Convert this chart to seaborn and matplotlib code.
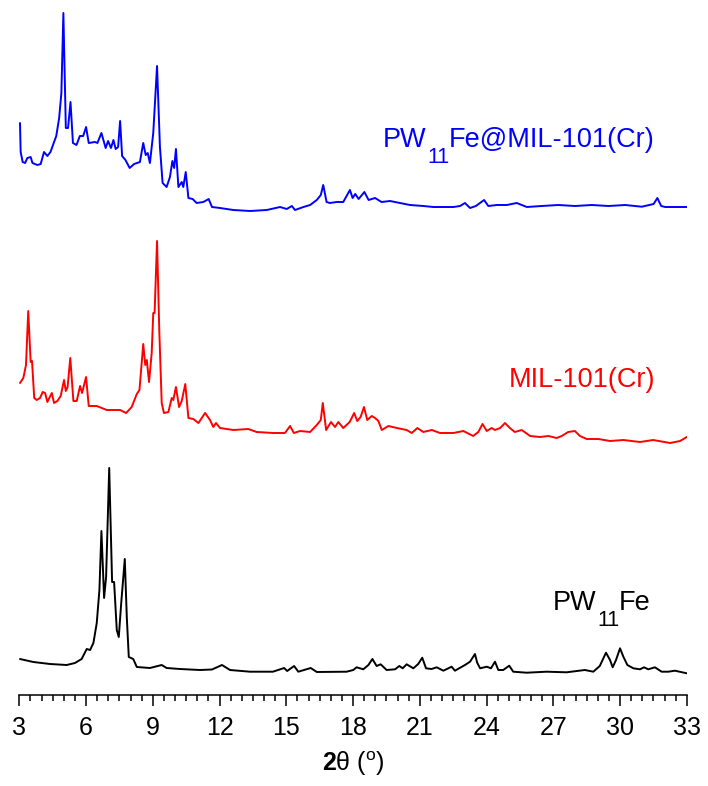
import numpy as np
import pandas as pd
import matplotlib
matplotlib.use('Agg')
import matplotlib.pyplot as plt
import seaborn as sns
from matplotlib.ticker import MultipleLocator
from matplotlib.transforms import IdentityTransform

# 2theta (deg) and relative intensity
pw11fe_2theta = [3.03, 3.63, 4.38, 5.13, 5.50, 5.80, 6.03, 6.18, 6.33, 6.48, 6.60, 6.69, 6.81, 6.90,
                 7.04, 7.17, 7.26, 7.38, 7.47, 7.58, 7.74, 7.83, 7.92, 8.12, 8.28, 8.87, 9.40, 9.62,
                 10.22, 11.12, 11.66, 12.11, 12.47, 13.37, 14.40, 14.90, 15.04, 15.35, 15.54, 16.10,
                 16.37, 17.71, 18.01, 18.16, 18.46, 18.69, 18.87, 19.06, 19.24, 19.51, 19.89, 20.08,
                 20.23, 20.41, 20.71, 20.93, 21.11, 21.28, 21.53, 21.76, 22.06, 22.43, 22.58, 23.03,
                 23.26, 23.48, 23.58, 23.71, 24.01, 24.20, 24.38, 24.53, 24.75, 25.02, 25.20, 25.80,
                 26.70, 27.60, 28.42, 28.80, 29.09, 29.37, 29.55, 29.67, 29.82, 30.00, 30.15, 30.33,
                 30.60, 30.90, 31.08, 31.27, 31.57, 31.87, 32.17, 32.47, 33.00]
pw11fe_int = [14, 11, 9, 8, 10, 14, 24, 23, 30, 50, 83, 142, 75, 96,
              205, 91, 91, 43, 36, 70, 114, 56, 16, 14, 6, 5, 8, 5,
              4, 3, 3.5, 8, 3, 1.3, 1.3, 5, 2, 7, 1.3, 5,
              1, 1.3, 3, 5.7, 3.7, 8, 14, 7, 8.7, 3, 3.7, 7,
              4.7, 8.7, 4.7, 9, 15.3, 4.7, 4, 5.7, 2.3, 6.3, 2.3, 8,
              11.3, 19, 10.3, 4.7, 6.3, 4.7, 11.3, 3, 3, 7.3, 1.3, 0.3,
              1.3, 0.7, 3, 1.3, 7, 20.3, 13, 5.7, 13, 24.7, 16.3, 8,
              4.7, 3.7, 5.7, 3.7, 5.7, 1.3, 1.3, 2.3, -0.3]

mil_2theta = [3.03, 3.18, 3.30, 3.40, 3.51, 3.57, 3.67, 3.78, 3.93, 4.05, 4.16, 4.26, 4.46, 4.56,
              4.71, 4.86, 5.01, 5.09, 5.17, 5.29, 5.43, 5.58, 5.73, 5.82, 6.00, 6.12, 6.48, 6.93,
              7.53, 7.80, 8.05, 8.28, 8.40, 8.57, 8.66, 8.73, 8.83, 8.95, 9.02, 9.08, 9.19, 9.29,
              9.40, 9.50, 9.70, 9.85, 9.92, 10.04, 10.18, 10.30, 10.46, 10.60, 10.82, 11.05, 11.35,
              11.57, 11.72, 11.84, 12.02, 12.62, 13.29, 13.67, 14.41, 14.94, 15.17, 15.34, 15.62,
              16.07, 16.37, 16.55, 16.64, 16.79, 17.01, 17.19, 17.34, 17.56, 17.85, 18.05, 18.19,
              18.34, 18.49, 18.64, 18.84, 18.99, 19.14, 19.29, 19.59, 19.97, 20.41, 20.64, 20.89,
              21.16, 21.54, 21.91, 22.51, 22.96, 23.40, 23.63, 23.82, 24.01, 24.23, 24.38, 24.61,
              24.83, 25.05, 25.27, 25.58, 25.96, 26.40, 26.78, 27.15, 27.38, 27.67, 27.97, 28.20,
              28.50, 29.03, 29.55, 30.15, 30.90, 31.49, 32.25, 32.70, 33.00]
mil_int = [60, 65, 78, 132, 81, 82, 45, 43, 45, 51, 50, 41, 50, 40,
           42, 47, 63, 52, 56, 85, 42, 42, 57, 50, 66, 37, 37, 33,
           33, 30, 36, 49, 53, 99, 78, 83, 61, 90, 130, 130, 202, 113,
           40, 30, 31, 45, 43, 56, 36, 42, 59, 25, 24, 20, 30,
           23, 16, 20, 15, 13, 14, 11, 10, 10, 17, 10, 12,
           11, 18, 23, 40, 13, 21, 16, 21, 15, 21, 30, 22,
           26, 36, 23, 27, 25, 22, 13, 17, 15, 13, 10, 15,
           11, 13, 10, 10, 12, 7, 11, 19, 12, 15, 13, 15,
           20, 15, 11, 13, 7, 6, 7, 5, 7, 11, 12, 7,
           4, 4, 2, 3, 1, 3, 0, 2, 6]

mof_2theta = [3.03, 3.06, 3.15, 3.26, 3.36, 3.51, 3.59, 3.81, 3.96, 4.11, 4.26, 4.40, 4.53, 4.66,
              4.79, 4.89, 4.98, 5.09, 5.19, 5.30, 5.41, 5.57, 5.72, 5.87, 6.00, 6.12, 6.40, 6.51,
              6.69, 6.88, 6.99, 7.12, 7.23, 7.33, 7.44, 7.53, 7.62, 7.77, 7.96, 8.16, 8.42, 8.57,
              8.68, 8.77, 8.87, 9.02, 9.19, 9.32, 9.44, 9.62, 9.77, 9.88, 9.96, 10.04, 10.15, 10.30,
              10.37, 10.48, 10.60, 10.79, 10.97, 11.27, 11.51, 11.66, 12.02, 12.62, 13.37, 14.12,
              14.72, 15.02, 15.25, 15.39, 15.77, 16.07, 16.37, 16.55, 16.66, 16.81, 16.96, 17.26,
              17.56, 17.86, 17.98, 18.10, 18.25, 18.51, 18.70, 18.99, 19.28, 19.66, 20.11, 20.56,
              21.16, 21.61, 22.06, 22.51, 22.81, 23.03, 23.26, 23.52, 23.89, 24.08, 24.46, 24.91,
              25.36, 25.81, 26.48, 27.23, 27.98, 28.73, 29.48, 30.23, 30.98, 31.51, 31.68, 31.85,
              32.03, 32.33, 32.63, 33.00]
mof_int = [88, 59, 49, 48, 53, 54, 48, 46, 47, 59, 55, 59, 67, 75,
           93, 118, 198, 83, 83, 109, 68, 66, 75, 75, 84, 68, 69, 68,
           78, 63, 70, 63, 71, 62, 64, 90, 55, 51, 43, 47, 49, 68,
           56, 58, 48, 78, 145, 64, 28, 24, 34, 50, 43, 62, 24, 29,
           24, 39, 13, 12, 8, 9, 12, 4, 3, 1, 0, 1,
           4, 2, 5, 1, 4, 6, 11, 16, 26, 9, 8, 9,
           9, 21, 13, 17, 12, 19, 11, 13, 9, 10, 8, 6,
           5, 4, 4, 4, 5, 8, 3, 5, 11, 5, 6, 6,
           8, 4, 5, 6, 5, 6, 5, 6, 4.3, 7, 13, 5,
           4, 4, 4, 4]

samples = ['PW11Fe', 'MIL-101(Cr)', 'PW11Fe@MIL-101(Cr)']
offsets = [0, 230, 462]
colors = ['black', '#ff0000', '#0000ff']

frames = []
for name, tt, inten, off in zip(samples,
                                [pw11fe_2theta, mil_2theta, mof_2theta],
                                [pw11fe_int, mil_int, mof_int],
                                offsets):
    frames.append(pd.DataFrame({'2theta': tt,
                                'y': np.array(inten, dtype=float) + off,
                                'sample': name}))
df = pd.concat(frames, ignore_index=True)

sns.set_theme(style='ticks')
plt.rcParams['font.family'] = ['Liberation Sans', 'DejaVu Sans']
plt.rcParams['mathtext.fontset'] = 'custom'
plt.rcParams['mathtext.rm'] = 'Liberation Sans'
plt.rcParams['mathtext.it'] = 'Liberation Sans:italic'
plt.rcParams['mathtext.bf'] = 'Liberation Sans:bold'
plt.rcParams['text.color'] = 'black'
plt.rcParams['axes.labelcolor'] = 'black'
plt.rcParams['xtick.color'] = 'black'
plt.rcParams['xtick.labelcolor'] = 'black'

fig = plt.figure(figsize=(7.08, 7.86), dpi=100)
ax = fig.add_axes([0.0273, 1 - 695 / 786, 0.9427, 695 / 786])

sns.lineplot(data=df, x='2theta', y='y', hue='sample', palette=dict(zip(samples, colors)),
             estimator=None, sort=False, linewidth=1.4, legend=False, ax=ax)

ax.set_xlim(3, 33)
ax.set_ylim(-22, 673)
ax.set_xticks(range(3, 34, 3))
ax.xaxis.set_minor_locator(MultipleLocator(0.5))
ax.tick_params(axis='x', which='major', direction='out', length=8, width=1.1,
               labelsize=18, pad=7, color='black', labelcolor='black')
ax.tick_params(axis='x', which='minor', direction='out', length=4.5, width=1.1, color='black')
ax.set_yticks([])
ax.set_ylabel('')
ax.set_xlabel('$\\mathbf{2}$θ ($^{\\mathrm{o}}$)', fontsize=18, labelpad=7, color='black')
sns.despine(ax=ax, left=True, top=True, right=True)
ax.spines['bottom'].set_linewidth(1.1)
ax.spines['bottom'].set_color('black')
ax.patch.set_alpha(0)

# sample names, with the "11" dropped well below the baseline as in the original
fig.canvas.draw()
renderer = fig.canvas.get_renderer()


def put_label(x, y, pieces, color):
    px, py = ax.transData.transform((x, y))
    for txt, size, drop, gap in pieces:
        t = ax.text(px, py - drop, txt, transform=IdentityTransform(), color=color,
                    fontsize=size, ha='left', va='baseline')
        px = t.get_window_extent(renderer).x1 + gap


put_label(19.35, 526, [('PW', 19.5, 0, 1), ('11', 15.5, 16, -1), ('Fe@MIL-101(Cr)', 19.5, 0, 0)], '#0000ff')
ax.text(31.57, 286, 'MIL-101(Cr)', color='#ff0000', fontsize=19.5, ha='right', va='baseline')
put_label(26.98, 63, [('PW', 19.5, 0, 1), ('11', 15.5, 16, -1), ('Fe', 19.5, 0, 0)], 'black')

fig.savefig('out.png', dpi=100)
